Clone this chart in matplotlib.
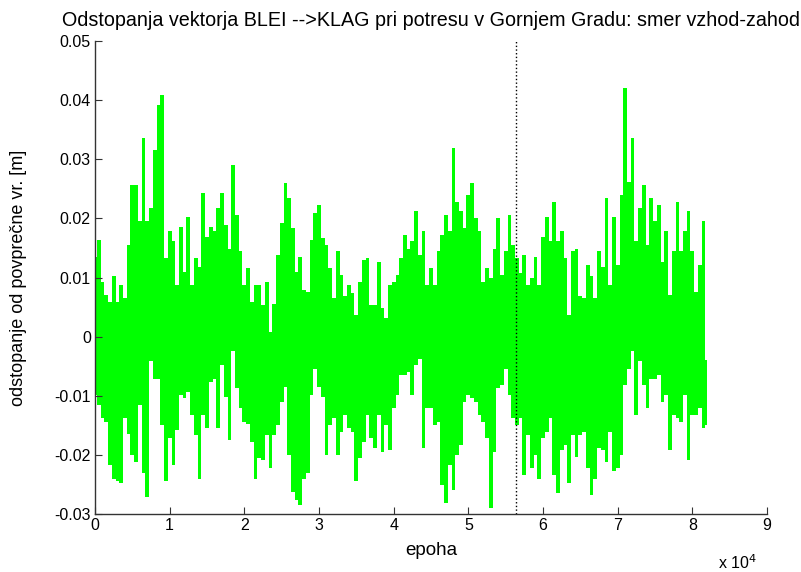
import numpy as np
import matplotlib
matplotlib.use('Agg')
import matplotlib.pyplot as plt

plt.rcParams['font.family'] = ['Liberation Sans', 'DejaVu Sans']

# envelope, one sample every 500 epochs (values in 1e-3 m)
step = 500
upper = [
    13.5, 16.4, 9.3, 7.1, 5.9, 10.2, 5.9, 8.7, 6.5, 15.5, 25.7, 25.7, 19.5, 33.6,
    19.5, 21.7, 31.6, 39.2, 40.9, 13.3, 17.8, 16.1, 8.7, 18.6, 11.0, 20.3, 8.7, 13.3,
    11.8, 24.3, 16.9, 18.6, 17.8, 21.7, 24.3, 18.9, 14.9, 29.0, 20.6, 14.4, 8.7, 11.6,
    5.9, 8.7, 8.7, 5.4, 9.3, 0.8, 5.6, 13.8, 19.2, 25.9, 23.4, 18.3, 11.0, 13.5,
    7.9, 7.6, 16.4, 20.9, 22.3, 16.6, 15.5, 11.6, 6.5, 14.4, 10.4, 6.8, 8.7, 7.3,
    3.7, 9.3, 13.0, 13.3, 5.4, 5.4, 12.7, 4.8, 3.1, 8.7, 9.3, 10.4, 13.3,
    17.2, 14.9, 16.1, 21.2, 13.8, 17.8, 8.7, 11.6, 8.7, 14.4, 17.2, 20.6, 17.8, 31.9,
    22.8, 21.2, 18.3, 24.0, 25.9, 20.0, 17.8, 9.3, 11.6, 9.9, 14.9, 20.0, 10.4, 14.4,
    20.6, 15.5, 13.3, 10.7, 13.8, 8.7, 9.9, 13.5, 8.7, 16.9, 20.3, 16.1, 22.8, 16.1,
    17.8, 13.3, 3.7, 14.4, 14.9, 6.8, 6.5, 12.1, 10.2, 6.5, 14.4, 11.8, 23.4,
    8.7, 20.3, 12.1, 24.0, 42.0, 26.2, 33.6, 16.1, 21.7, 25.7, 15.5, 23.4, 19.5, 22.3,
    12.7, 17.8, 7.1, 14.4, 22.8, 14.4, 17.8, 21.2, 14.4, 7.6, 12.1, 19.5, -3.9,
]
lower = [
    -9.9, -11.6, -13.8, -14.4, -21.7, -24.0, -24.5, -24.8, -13.8, -16.4, -20.0, -21.2, -11.6, -23.1,
    -27.1, -4.2, -7.1, -7.1, -14.9, -24.5, -17.2, -21.7, -15.8, -9.9, -10.4, -9.3, -13.3, -16.6,
    -24.0, -13.3, -15.5, -7.6, -7.1, -15.5, -4.8, -10.2, -17.5, -2.5, -8.7, -12.1, -14.4, -14.7,
    -17.8, -24.0, -20.6, -20.9, -16.6, -22.3, -16.6, -14.9, -11.0, -8.5, -20.0, -26.2, -27.6, -28.5,
    -24.0, -23.1, -9.9, -5.4, -8.5, -10.2, -20.0, -14.9, -13.8, -20.0, -16.1, -13.3, -15.5, -16.1,
    -24.5, -20.6, -17.8, -13.3, -17.2, -18.9, -13.3, -19.5, -14.9, -19.2, -12.1, -9.9, -6.5,
    -6.5, -5.9, -9.9, -4.8, -3.7, -18.9, -12.1, -12.1, -14.9, -14.4, -25.1, -28.2, -21.7, -25.9,
    -20.0, -18.3, -11.0, -9.9, -10.4, -11.0, -13.3, -14.4, -17.2, -29.0, -19.5, -8.7, -8.2, -5.4,
    -9.9, -13.8, -14.9, -13.8, -23.4, -16.6, -22.3, -20.0, -24.0, -17.2, -16.1, -13.8, -23.4, -26.5,
    -19.2, -18.3, -24.8, -16.6, -20.3, -16.6, -16.1, -22.3, -26.8, -24.0, -18.9, -19.2, -21.2,
    -16.1, -22.8, -22.3, -20.0, -8.2, -5.4, -2.5, -13.3, -4.2, -8.2, -12.1, -7.1, -7.1, -6.5,
    -11.0, -9.9, -19.2, -13.3, -13.8, -14.4, -9.9, -20.9, -13.3, -13.3, -12.1, -15.5, -14.9,
]
quake_epoch = 56400

yticks = [-0.03, -0.02, -0.01, 0, 0.01, 0.02, 0.03, 0.04, 0.05]
ytick_labels = ['-0.03', '-0.02', '-0.01', '0', '0.01', '0.02', '0.03', '0.04', '0.05']
xticks = np.arange(0, 10) * 1e4
xtick_labels = [str(i) for i in range(10)]

hi = np.array(upper) * 1e-3
lo = np.array(lower) * 1e-3
e = np.arange(len(hi)) * step

fig = plt.figure(figsize=(8.01, 5.72), dpi=100)
ax = fig.add_axes([95 / 801, 58 / 572, 672 / 801, 473 / 572])

# dense signal: every sample column filled from its trough to its peak
ax.fill_between(e, lo, hi, step='mid', color='#00ff00', linewidth=0)
ax.axvline(quake_epoch, color='black', linestyle=':', linewidth=1.0)

ax.set_xlim(0, 9e4)
ax.set_ylim(-0.03, 0.05)
ax.set_xticks(xticks)
ax.set_xticklabels(xtick_labels)
ax.set_yticks(yticks)
ax.set_yticklabels(ytick_labels)

for s in ['top', 'right']:
    ax.spines[s].set_visible(False)
for s in ['left', 'bottom']:
    ax.spines[s].set_color('#333333')
    ax.spines[s].set_linewidth(1.0)
ax.tick_params(direction='in', length=5, color='#333333', labelsize=11.5, pad=3)

ax.set_title('Odstopanja vektorja BLEI -->KLAG pri potresu v Gornjem Gradu: smer vzhod-zahod',
             fontsize=14.2, pad=11)
ax.set_xlabel('epoha', fontsize=13.5)
ax.xaxis.set_label_coords(0.5, -0.06)
ax.set_ylabel('odstopanje od povprečne vr. [m]', fontsize=13)
ax.yaxis.set_label_coords(-0.101, 0.5)
fig.text(737 / 801, 1 - 563 / 572, r'x 10$^4$', fontsize=11.5, ha='center', va='center')

fig.savefig('out.png', dpi=100)
